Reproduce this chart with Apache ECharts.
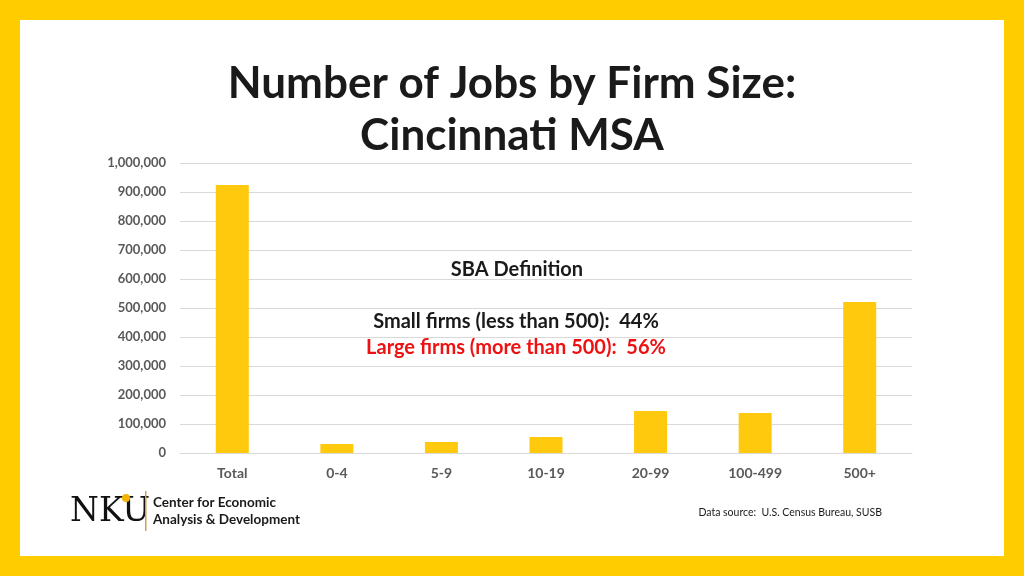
<!DOCTYPE html>
<html>
<head>
<meta charset="utf-8">
<script src="https://cdn.jsdelivr.net/npm/echarts@6/dist/echarts.min.js"></script>
<style>
  html, body { margin: 0; padding: 0; background: #ffcc00; }
  #chart { width: 1024px; height: 576px; }
</style>
</head>
<body>
<div id="chart"></div>
<script>
// jobs by firm size (employees), Cincinnati MSA
const categories = ['Total', '0-4', '5-9', '10-19', '20-99', '100-499', '500+']
const jobs = [924000, 31000, 38000, 55000, 145000, 138000, 521000]

const chart = echarts.init(document.getElementById('chart'))
const font = 'Lato, "Open Sans", sans-serif'

const option = {
  backgroundColor: '#ffcc00',
  animation: false,
  title: {
    text: 'Number of Jobs by Firm Size:\nCincinnati MSA',
    left: 'center',
    top: 53,
    textStyle: {
      fontFamily: font,
      fontSize: 44,
      fontWeight: 'bold',
      color: '#1a1a1a',
      lineHeight: 52
    }
  },
  grid: { left: 180, right: 112, top: 163, bottom: 123 },
  xAxis: {
    type: 'category',
    data: categories,
    axisLine: { lineStyle: { color: '#d9d9d9' } },
    axisTick: { show: false },
    axisLabel: {
      color: '#595959',
      fontFamily: font,
      fontSize: 14,
      fontWeight: 'bold',
      margin: 13
    }
  },
  yAxis: {
    type: 'value',
    min: 0,
    max: 1000000,
    interval: 100000,
    axisLine: { show: false },
    axisTick: { show: false },
    splitLine: { lineStyle: { color: '#d9d9d9' } },
    axisLabel: {
      color: '#595959',
      fontFamily: font,
      fontSize: 13,
      fontWeight: 'bold',
      margin: 14,
      formatter: v => v.toLocaleString('en-US')
    }
  },
  series: [{
    type: 'bar',
    data: jobs,
    barWidth: 33,
    itemStyle: { color: '#ffc90e' }
  }],
  graphic: [
    { type: 'rect', z: -1, shape: { x: 20, y: 20, width: 984, height: 536 }, style: { fill: '#ffffff' } },
    { type: 'text', x: 517, y: 270, style: { text: 'SBA Definition', font: 'bold 20px ' + font, fill: '#1a1a1a', textAlign: 'center', textVerticalAlign: 'middle' } },
    { type: 'text', x: 516, y: 322, style: { text: 'Small firms (less than 500):  44%', font: 'bold 20px ' + font, fill: '#1a1a1a', textAlign: 'center', textVerticalAlign: 'middle' } },
    { type: 'text', x: 516, y: 348, style: { text: 'Large firms (more than 500):  56%', font: 'bold 20px ' + font, fill: '#ee1111', textAlign: 'center', textVerticalAlign: 'middle' } },
    { type: 'text', x: 882, y: 513, style: { text: 'Data source:  U.S. Census Bureau, SUSB', font: '10.5px ' + font, fill: '#1a1a1a', textAlign: 'right', textVerticalAlign: 'middle' } },
    // logo
    { type: 'text', x: 70, y: 512, style: { text: 'NKU', font: '33px "DejaVu Serif", "Liberation Serif", serif', fill: '#111111', textVerticalAlign: 'middle' } },
    { type: 'circle', shape: { cx: 126, cy: 498, r: 4 }, style: { fill: '#f5b400' } },
    { type: 'rect', shape: { x: 145, y: 491, width: 1.5, height: 40 }, style: { fill: '#c9a64a' } },
    { type: 'text', x: 153, y: 503, style: { text: 'Center for Economic', font: 'bold 13.5px ' + font, fill: '#1a1a1a', textVerticalAlign: 'middle' } },
    { type: 'text', x: 153, y: 520, style: { text: 'Analysis & Development', font: 'bold 13.5px ' + font, fill: '#1a1a1a', textVerticalAlign: 'middle' } }
  ]
}

chart.setOption(option)
</script>
</body>
</html>
